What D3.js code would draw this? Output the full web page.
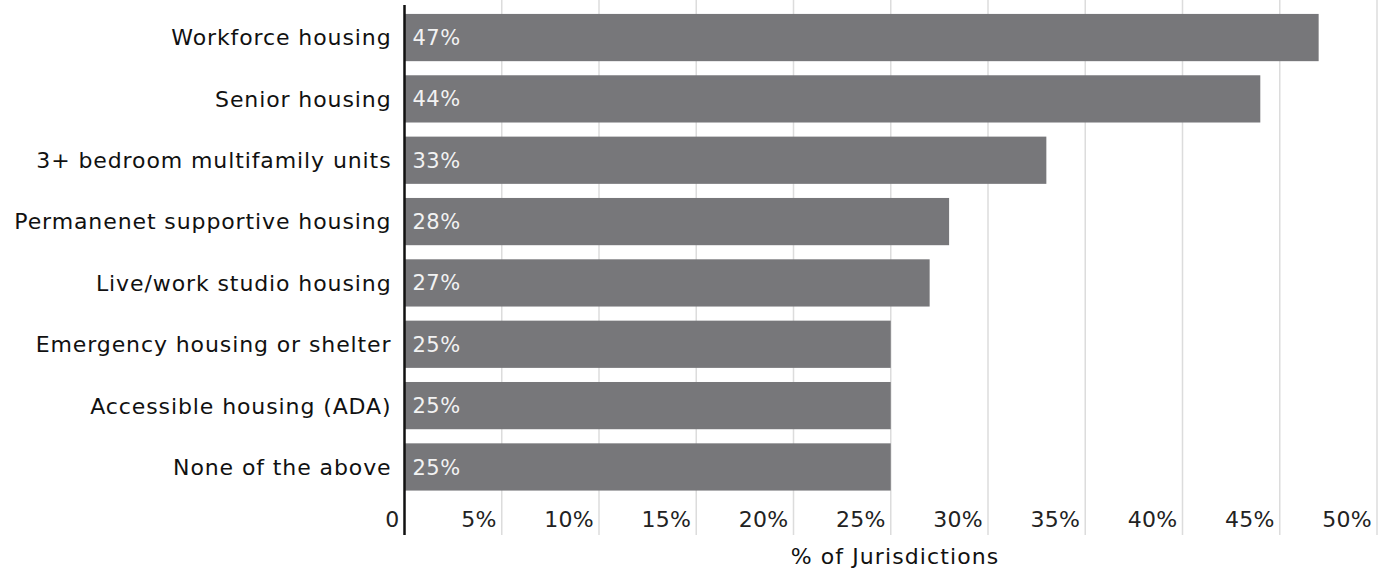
<!DOCTYPE html>
<html>
<head>
<meta charset="utf-8">
<script src="https://cdn.jsdelivr.net/npm/d3@7"></script>
<style>
  html, body { margin: 0; padding: 0; background: #fff; }
  svg { display: block; }
  text { font-family: "DejaVu Sans", "Noto Sans", sans-serif; }
</style>
</head>
<body>
<div id="chart"></div>
<script>
// Housing types and share of jurisdictions (%)
const categories = [
  "Workforce housing",
  "Senior housing",
  "3+ bedroom multifamily units",
  "Permanenet supportive housing",
  "Live/work studio housing",
  "Emergency housing or shelter",
  "Accessible housing (ADA)",
  "None of the above"
];
const values = [47, 44, 33, 28, 27, 25, 25, 25];
const tickValues = [0, 5, 10, 15, 20, 25, 30, 35, 40, 45, 50];
const tickLabels = ["0", "5%", "10%", "15%", "20%", "25%", "30%", "35%", "40%", "45%", "50%"];
const axisTitle = "% of Jurisdictions";

const W = 1383, H = 568;
const x0 = 404.5, x1 = 1377;
const plotTop = 5, plotBottom = 535;

const svg = d3.select("#chart").append("svg")
  .attr("width", W).attr("height", H);

const x = d3.scaleLinear().domain([0, 50]).range([x0, x1]);
const y = d3.scaleBand().domain(categories).range([3.5, 501]).paddingInner(0.23).paddingOuter(0.17);

// vertical gridlines
svg.append("g").selectAll("line")
  .data(tickValues.filter(d => d > 0))
  .join("line")
  .attr("x1", d => x(d)).attr("x2", d => x(d))
  .attr("y1", 0).attr("y2", plotBottom)
  .attr("stroke", "#dcdcdc").attr("stroke-width", 1.5);

// bars
svg.append("g").selectAll("rect")
  .data(values)
  .join("rect")
  .attr("x", x(0))
  .attr("y", (d, i) => y(categories[i]))
  .attr("width", d => x(d) - x(0))
  .attr("height", y.bandwidth())
  .attr("fill", "#77777a");

// value labels inside bars
svg.append("g").selectAll("text")
  .data(values)
  .join("text")
  .attr("x", x(0) + 8)
  .attr("y", (d, i) => y(categories[i]) + y.bandwidth() / 2)
  .attr("dy", "0.36em")
  .attr("fill", "#f2f2f2")
  .attr("font-size", 21)
  .attr("letter-spacing", 0.5)
  .text(d => d + "%");

// category labels
svg.append("g").selectAll("text")
  .data(categories)
  .join("text")
  .attr("x", x0 - 13)
  .attr("y", d => y(d) + y.bandwidth() / 2)
  .attr("dy", "0.36em")
  .attr("text-anchor", "end")
  .attr("fill", "#111")
  .attr("font-size", 22)
  .attr("letter-spacing", 0.9)
  .text(d => d);

// tick labels
svg.append("g").selectAll("text")
  .data(tickValues)
  .join("text")
  .attr("x", d => x(d) - 5)
  .attr("y", 527)
  .attr("text-anchor", "end")
  .attr("fill", "#222")
  .attr("font-size", 22)
  .attr("letter-spacing", 0.3)
  .text((d, i) => tickLabels[i]);

// baseline axis
svg.append("line")
  .attr("x1", x(0)).attr("x2", x(0))
  .attr("y1", plotTop).attr("y2", plotBottom)
  .attr("stroke", "#111").attr("stroke-width", 2.5);

// axis title
svg.append("text")
  .attr("x", 895)
  .attr("y", 564)
  .attr("text-anchor", "middle")
  .attr("fill", "#111")
  .attr("font-size", 22)
  .attr("letter-spacing", 1.1)
  .text(axisTitle);
</script>
</body>
</html>
